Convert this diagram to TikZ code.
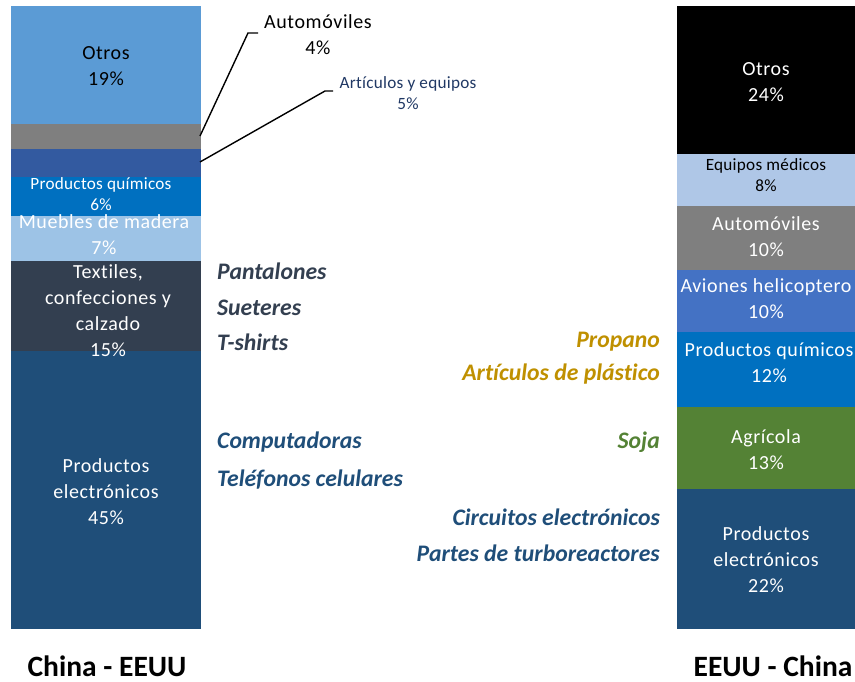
\documentclass[tikz,border=0pt]{standalone}
\usepackage{fontspec}
\setmainfont{Carlito}[Ligatures=NoCommon]
\newfontfamily\spacedfont{Carlito}[LetterSpace=3,Ligatures=NoCommon]
\newfontfamily\smallspacedfont{Carlito}[LetterSpace=1.5,Ligatures=NoCommon]
\definecolor{cOtrosL}{HTML}{5B9BD5}
\definecolor{cGray}{HTML}{7F7F7F}
\definecolor{cArtic}{HTML}{335AA0}
\definecolor{cChem}{HTML}{0070C0}
\definecolor{cMuebles}{HTML}{9DC3E6}
\definecolor{cTextil}{HTML}{333F50}
\definecolor{cElec}{HTML}{1F4E79}
\definecolor{cEquipos}{HTML}{AFC7E7}
\definecolor{cAviones}{HTML}{4472C4}
\definecolor{cAgri}{HTML}{548235}
\definecolor{cNavy}{HTML}{203864}
\definecolor{cGold}{HTML}{BF9000}
\begin{document}
\begin{tikzpicture}[x=1pt,y=-1pt,
  biglbl/.style={align=center, inner sep=0pt, font=\spacedfont\fontsize{20}{26}\selectfont},
  smalllbl/.style={align=center, inner sep=0pt, font=\smallspacedfont\fontsize{17.2}{20.5}\selectfont},
  itemlbl/.style={inner sep=0pt, font=\bfseries\itshape\fontsize{23.7}{27}\selectfont},
  titlelbl/.style={inner sep=0pt, font=\bfseries\fontsize{29.5}{34}\selectfont},
  leader/.style={draw=black, line width=1.4pt}]
\useasboundingbox (0,0) rectangle (855,682);
% left bar: China - EEUU
\fill[cOtrosL]  (11,6)   rectangle (201,124);
\fill[cGray]    (11,124) rectangle (201,149);
\fill[cArtic]   (11,149) rectangle (201,177);
\fill[cChem]    (11,177) rectangle (201,216);
\fill[cMuebles] (11,216) rectangle (201,261);
\fill[cTextil]  (11,261) rectangle (201,351);
\fill[cElec]    (11,351) rectangle (201,629);
% right bar: EEUU - China
\fill[black]    (677,6)   rectangle (855,154);
\fill[cEquipos] (677,154) rectangle (855,206);
\fill[cGray]    (677,206) rectangle (855,270);
\fill[cAviones] (677,270) rectangle (855,332);
\fill[cChem]    (677,332) rectangle (855,407);
\fill[cAgri]    (677,407) rectangle (855,489);
\fill[cElec]    (677,489) rectangle (855,629);
% left bar labels
\node[biglbl, text=black] (lOtros) at (106,66) {Otros\\19\%};
\node[smalllbl, text=white] (lChem) at (101,194) {Productos químicos\\6\%};
\node[biglbl, text=white] (lMuebles) at (104,235) {Muebles de madera\\7\%};
\node[biglbl, text=white] (lTextil) at (108,311) {Textiles,\\confecciones y\\calzado\\15\%};
\node[biglbl, text=white] (lElec) at (106,492) {Productos\\electrónicos\\45\%};
% callout labels
\node[biglbl, text=black] (lAuto) at (318,35) {Automóviles\\4\%};
\node[smalllbl, text=cNavy] (lArtic) at (408,93) {Artículos y equipos\\5\%};
\coordinate (autoSeg) at (200,136);
\coordinate (autoBend) at (248,33);
\coordinate (autoEnd) at (258,33);
\coordinate (articSeg) at (200,162);
\coordinate (articBend) at (325,91);
\coordinate (articEnd) at (333,91);
\draw[leader] (autoSeg) -- (autoBend) -- (autoEnd);
\draw[leader] (articSeg) -- (articBend) -- (articEnd);
% right bar labels
\node[biglbl, text=white] (rOtros) at (766,82) {Otros\\24\%};
\node[smalllbl, text=black] (rEquipos) at (766,175) {Equipos médicos\\8\%};
\node[biglbl, text=white] (rAuto) at (766,237) {Automóviles\\10\%};
\node[biglbl, text=white] (rAviones) at (766,299) {Aviones helicoptero\\10\%};
\node[biglbl, text=white] (rChem) at (769,363) {Productos químicos\\12\%};
\node[biglbl, text=white] (rAgri) at (766,450) {Agrícola\\13\%};
\node[biglbl, text=white] (rElec) at (766,560) {Productos\\electrónicos\\22\%};
% middle product labels
\node[itemlbl, text=cTextil, anchor=west] (mPant) at (217,271) {Pantalones};
\node[itemlbl, text=cTextil, anchor=west] (mSuet) at (217,308) {Sueteres};
\node[itemlbl, text=cTextil, anchor=west] (mTsh) at (217,342) {T-shirts};
\node[itemlbl, text=cElec, anchor=west] (mComp) at (217,442) {Computadoras};
\node[itemlbl, text=cElec, anchor=west] (mTel) at (217,480) {Teléfonos celulares};
\node[itemlbl, text=cGold, anchor=east] (mProp) at (660,342) {Propano};
\node[itemlbl, text=cGold, anchor=east] (mPlast) at (660,374) {Artículos de plástico};
\node[itemlbl, text=cAgri, anchor=east] (mSoja) at (660,442) {Soja};
\node[itemlbl, text=cElec, anchor=east] (mCirc) at (660,517) {Circuitos electrónicos};
\node[itemlbl, text=cElec, anchor=east] (mTurb) at (660,553) {Partes de turboreactores};
% titles
\node[titlelbl] (tLeft) at (107,666) {China - EEUU};
\node[titlelbl] (tRight) at (773,666) {EEUU - China};
\end{tikzpicture}
\end{document}
